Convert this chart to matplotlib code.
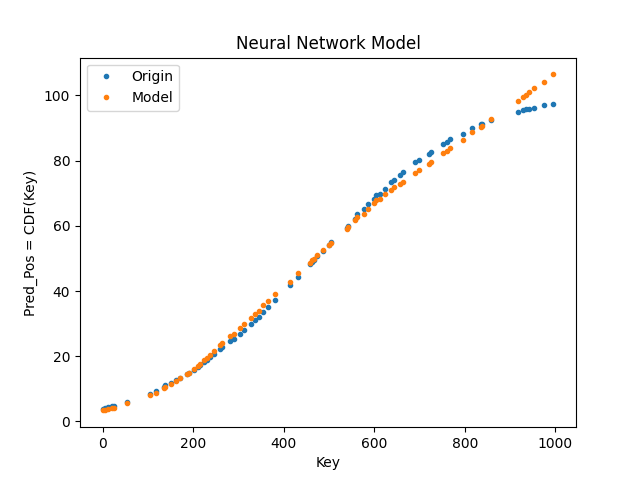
import matplotlib
matplotlib.use('Agg')
import matplotlib.pyplot as plt

keys = [0, 5, 12, 20, 25, 55, 104, 118, 135, 139, 152, 162, 172, 187, 191,
        202, 210, 216, 224, 231, 238, 246, 260, 264, 281, 291, 303, 312, 327,
        336, 345, 355, 365, 381, 413, 431, 458, 463, 467, 474, 486, 500, 505,
        539, 542, 558, 562, 577, 586, 599, 605, 612, 625, 637, 643, 656, 664,
        691, 698, 720, 726, 752, 761, 767, 796, 817, 836, 839, 859, 917, 929,
        936, 943, 954, 976, 996]
origin = [3.9, 4.1, 4.3, 4.7, 4.9, 6.1, 8.5, 9.5, 10.7, 11.1, 11.9, 12.6, 13.4,
          14.5, 14.9, 15.8, 16.6, 17.3, 18.2, 19.0, 19.8, 20.8, 22.3, 22.8,
          24.6, 25.4, 26.9, 28.1, 30.0, 31.2, 32.0, 33.5, 35.1, 37.1, 41.9,
          44.3, 48.2, 49.0, 49.6, 50.6, 52.3, 54.0, 55.0, 59.3, 60.0, 62.2,
          63.5, 65.2, 66.6, 68.3, 69.3, 69.8, 71.4, 73.4, 74.1, 75.5, 76.5,
          79.4, 80.3, 81.9, 82.6, 85.2, 85.7, 86.7, 88.2, 90.1, 91.1, 91.3,
          92.4, 94.9, 95.4, 95.7, 95.9, 96.2, 96.9, 97.2]
model = [3.4, 3.6, 3.8, 4.0, 4.1, 5.6, 8.0, 8.8, 10.2, 10.6, 11.6, 12.5, 13.3,
         14.6, 15.0, 16.0, 16.9, 17.7, 18.8, 19.6, 20.4, 21.5, 23.6, 24.0,
         26.1, 26.7, 28.7, 30.0, 31.8, 33.0, 33.8, 35.6, 36.9, 39.0, 42.9,
         45.5, 48.5, 49.4, 49.9, 50.9, 52.5, 54.0, 54.7, 59.1, 59.6, 61.7,
         62.8, 63.7, 65.2, 67.0, 67.8, 68.3, 69.6, 71.1, 71.9, 72.9, 73.4,
         76.3, 77.0, 79.0, 79.5, 82.3, 82.9, 83.7, 86.4, 88.6, 90.3, 90.5,
         92.6, 98.3, 99.5, 100.2, 101.0, 102.1, 104.2, 106.4]

plt.figure(figsize=(6.4, 4.8), dpi=100)
plt.plot(keys, origin, '.', label='Origin')
plt.plot(keys, model, '.', label='Model')
plt.title('Neural Network Model')
plt.xlabel('Key')
plt.ylabel('Pred_Pos = CDF(Key)')
plt.legend(loc='upper left')
plt.savefig('out.png')
